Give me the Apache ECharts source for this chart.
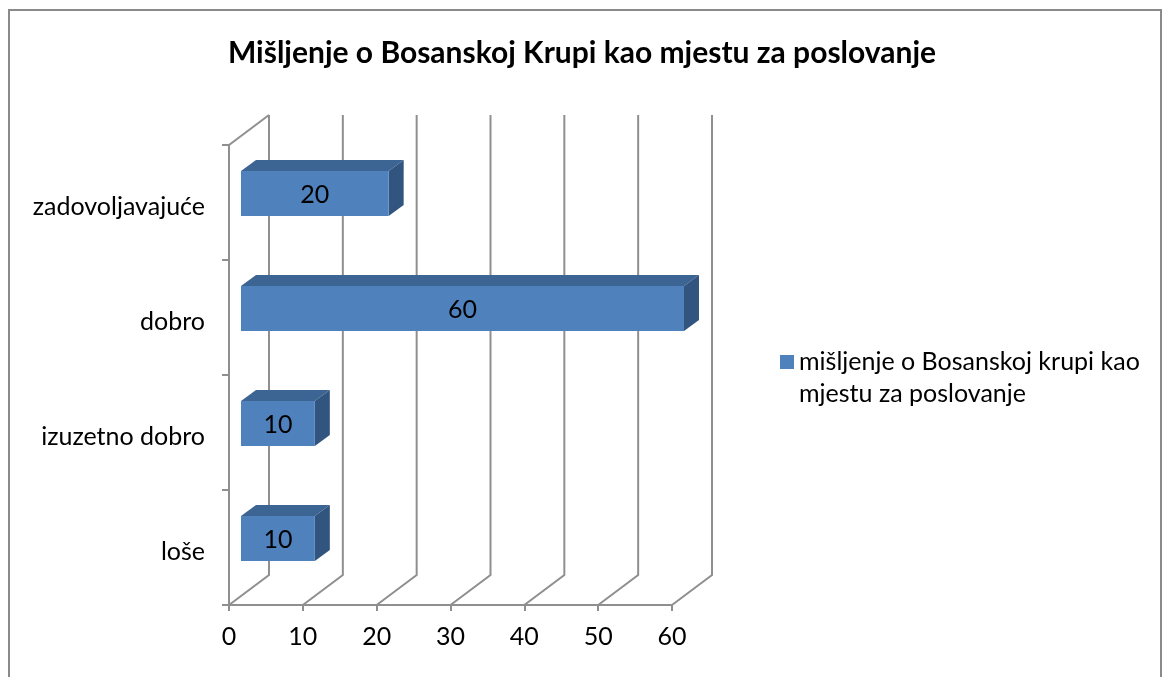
<!DOCTYPE html>
<html>
<head>
<meta charset="utf-8">
<script src="https://cdn.jsdelivr.net/npm/echarts@6/dist/echarts.min.js"></script>
<style>
html,body{margin:0;padding:0;background:#fff;}
#chart{width:1164px;height:677px;}
</style>
</head>
<body>
<div id="chart"></div>
<script>
const titleText = 'Mišljenje o Bosanskoj Krupi kao mjestu za poslovanje';
const seriesName = 'mišljenje o Bosanskoj krupi kao mjestu za poslovanje';
const legendLines = ['mišljenje o Bosanskoj krupi kao', 'mjestu za poslovanje'];
const categories = ['loše', 'izuzetno dobro', 'dobro', 'zadovoljavajuće'];
const values = [10, 10, 60, 20];
const xTicks = [0, 10, 20, 30, 40, 50, 60];

const FONT = 'Lato, "Open Sans", sans-serif';
const GRID_COLOR = '#8f8f8f';
const DX = 40, DY = -30;          // wall depth offset
const BAR_X0 = 12, BAR_Y0 = -9;   // bar front face depth offset
const BDX = 15, BDY = -11;        // bar depth
const FRONT = '#4f81bd', TOP = '#3c6593', SIDE = '#31557f';

const chart = echarts.init(document.getElementById('chart'));

function renderWall(params, api) {
  const cs = params.coordSys;
  const v = api.value(0);
  const x = api.coord([v, 0])[0];
  const top = cs.y, bottom = cs.y + cs.height;
  const children = [{
    type: 'polyline',
    shape: { points: [[x, bottom], [x + DX, bottom + DY], [x + DX, top + DY]] },
    style: { stroke: GRID_COLOR, lineWidth: 2, fill: null }
  }];
  if (v === xTicks[0]) {
    children.push({
      type: 'line',
      shape: { x1: x, y1: top, x2: x + DX, y2: top + DY },
      style: { stroke: GRID_COLOR, lineWidth: 2 }
    });
  }
  return { type: 'group', children: children, silent: true };
}

function renderBar(params, api) {
  const v = api.value(0);
  const i = api.value(1);
  const p0 = api.coord([0, i]);
  const p1 = api.coord([v, i]);
  const band = api.size([0, 1])[1];
  const h = band * 0.39;
  const xl = p0[0] + BAR_X0, xr = p1[0] + BAR_X0;
  const yc = p0[1] + BAR_Y0;
  const yt = yc - h / 2, yb = yc + h / 2;
  return {
    type: 'group',
    children: [
      { type: 'polygon', shape: { points: [[xl, yt], [xl + BDX, yt + BDY], [xr + BDX, yt + BDY], [xr, yt]] },
        style: { fill: TOP } },
      { type: 'polygon', shape: { points: [[xr, yt], [xr + BDX, yt + BDY], [xr + BDX, yb + BDY], [xr, yb]] },
        style: { fill: SIDE } },
      { type: 'rect', shape: { x: xl, y: yt, width: xr - xl, height: yb - yt },
        style: { fill: FRONT } },
      { type: 'text', x: (xl + xr) / 2, y: yc + 1,
        style: { text: String(v), fill: '#000', font: '25px ' + FONT, align: 'center', verticalAlign: 'middle' } }
    ]
  };
}

chart.setOption({
  backgroundColor: '#fff',
  animation: false,
  textStyle: { fontFamily: FONT },
  title: {
    text: titleText,
    left: 'center',
    top: 33,
    textStyle: { fontFamily: FONT, fontSize: 30, fontWeight: 'bold', color: '#000' }
  },
  graphic: [{
    type: 'rect',
    shape: { x: 9, y: 10, width: 1152, height: 700 },
    style: { fill: null, stroke: '#8a8a8a', lineWidth: 2 },
    silent: true
  }],
  legend: {
    data: [seriesName],
    left: 775,
    top: 309,
    icon: 'rect',
    itemWidth: 14,
    itemHeight: 14,
    formatter: function () { return ' \n' + legendLines.join('\n'); },
    textStyle: { fontFamily: FONT, fontSize: 25, color: '#000', lineHeight: 32 }
  },
  grid: { left: 229, top: 145, width: 443, height: 460 },
  xAxis: {
    type: 'value',
    min: 0, max: 60, interval: 10,
    axisLine: { show: true, lineStyle: { color: GRID_COLOR, width: 2 } },
    axisTick: { show: true, length: 6, lineStyle: { color: GRID_COLOR, width: 2 } },
    splitLine: { show: false },
    axisLabel: { fontFamily: FONT, fontSize: 25, color: '#000', margin: 19 }
  },
  yAxis: {
    type: 'category',
    data: categories,
    axisLine: { show: true, lineStyle: { color: GRID_COLOR, width: 2 } },
    axisTick: { show: true, length: 7, lineStyle: { color: GRID_COLOR, width: 2 } },
    axisLabel: {
      fontFamily: FONT, fontSize: 25, color: '#000', margin: 24,
      formatter: function (v) { return '{a|' + v + '}'; },
      rich: { a: { fontFamily: FONT, fontSize: 25, color: '#000', padding: [8, 0, 0, 0] } }
    }
  },
  series: [
    {
      type: 'custom',
      name: 'wall',
      renderItem: renderWall,
      data: xTicks.map(v => [v, 0]),
      encode: { x: 0, y: 1 },
      z: 1,
      silent: true
    },
    {
      type: 'custom',
      name: seriesName,
      renderItem: renderBar,
      data: values.map((v, i) => [v, i]),
      encode: { x: 0, y: 1 },
      itemStyle: { color: FRONT },
      z: 5
    }
  ]
});
</script>
</body>
</html>
